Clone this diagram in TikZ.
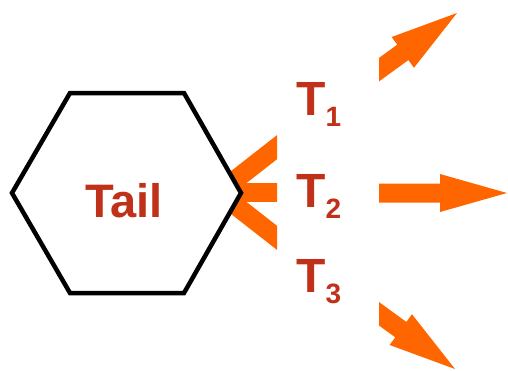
\documentclass[tikz,border=0pt]{standalone}
\usepackage{fontspec}
\setmainfont{Liberation Sans}
\definecolor{flow}{RGB}{255,102,0}
\definecolor{brick}{RGB}{191,49,24}
\tikzset{
  hexline/.style={draw=black, line width=4.5pt, line join=miter, fill=white},
  bar/.style={draw=flow, line width=19pt},
  bigarrow/.style={fill=flow, draw=none},
  bigtext/.style={text=brick, font=\bfseries\fontsize{47}{50}\selectfont, inner sep=0pt, anchor=base west},
  tlabel/.style={text=brick, font=\bfseries\fontsize{48}{50}\selectfont, inner sep=0pt, anchor=base west}
}
\newcommand{\subtxt}[1]{\raisebox{-11.5pt}{\fontsize{28}{30}\selectfont #1}}
\begin{document}
\begin{tikzpicture}[x=1pt, y=-1pt]
  \useasboundingbox (0,0) rectangle (508,370);

  % incoming bars, meeting behind the right corner of the hexagon
  \coordinate (meet) at (219,192.5);
  \coordinate (inA) at (300,129.2);
  \coordinate (inB) at (300,192.5);
  \coordinate (inC) at (300,255.8);
  \begin{scope}
    \clip (150,0) rectangle (277,370);
    \draw[bar] (meet) -- (inA);
    \draw[bar] (meet) -- (inB);
    \draw[bar] (meet) -- (inC);
  \end{scope}

  % hexagon
  \coordinate (h1) at (12,193);
  \coordinate (h2) at (70,93);
  \coordinate (h3) at (184,93);
  \coordinate (h4) at (241,193);
  \coordinate (h5) at (184,293);
  \coordinate (h6) at (70,293);
  \path[hexline] (h1) -- (h2) -- (h3) -- (h4) -- (h5) -- (h6) -- cycle;
  \node[bigtext] (tail) at (85,217) {Tail};

  % labels
  \node[tlabel] (t1) at (296,115) {T\subtxt{1}};
  \node[tlabel] (t2) at (296,207) {T\subtxt{2}};
  \node[tlabel] (t3) at (296,292) {T\subtxt{3}};

  % outgoing arrows
  \begin{scope}
    \clip (379,0) rectangle (508,370);
    \foreach \tx/\ty/\ang in {457/13/36, 507/193/0, 455/369/-36} {
      \begin{scope}[shift={(\tx,\ty)}, rotate=\ang]
        \fill[bigarrow] (0,0) -- (-67,-19) -- (-67,-9.5) -- (-220,-9.5)
          -- (-220,9.5) -- (-67,9.5) -- (-67,19) -- cycle;
      \end{scope}
    }
  \end{scope}
\end{tikzpicture}
\end{document}
